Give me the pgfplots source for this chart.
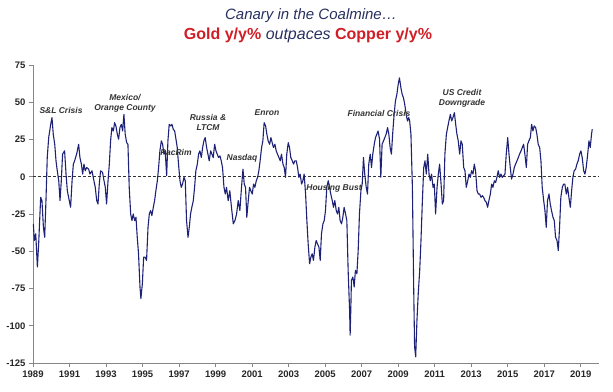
\documentclass[border=0pt]{standalone}
\usepackage{fontspec}
\setmainfont{Liberation Sans}
\usepackage{pgfplots}
\usepackage{pgfplotstable}
\pgfplotsset{compat=1.18}
\definecolor{navyline}{RGB}{30,34,118}
\definecolor{titlenavy}{RGB}{40,48,95}
\definecolor{titlered}{RGB}{208,30,38}
\definecolor{axisgray}{RGB}{135,135,135}
\pgfplotstableread{
year val
1989.02 -31.6
1989.07 -42.8
1989.15 -38.3
1989.24 -60.6
1989.31 -45.0
1989.42 -13.8
1989.49 -16.0
1989.57 -33.9
1989.64 -40.6
1989.71 -16.0
1989.78 12.9
1989.86 26.3
1989.97 35.2
1990.04 39.7
1990.11 28.5
1990.19 21.8
1990.26 10.7
1990.33 4.0
1990.41 -2.7
1990.48 -16.0
1990.55 -2.7
1990.62 15.2
1990.73 17.4
1990.81 1.8
1990.88 -9.4
1990.95 -13.8
1991.06 -20.5
1991.14 -2.7
1991.21 8.5
1991.28 10.7
1991.39 15.2
1991.50 21.8
1991.57 12.9
1991.65 8.5
1991.72 1.8
1991.79 8.5
1991.86 4.0
1991.94 6.2
1992.05 5.1
1992.12 1.8
1992.23 4.0
1992.30 -0.4
1992.41 -7.1
1992.49 -16.0
1992.56 -18.3
1992.63 -4.9
1992.70 4.0
1992.81 2.9
1992.89 -2.7
1992.96 -7.1
1993.03 -18.3
1993.11 -2.7
1993.18 8.5
1993.25 24.1
1993.32 33.0
1993.40 30.7
1993.47 36.3
1993.54 34.1
1993.62 28.5
1993.69 25.2
1993.76 33.0
1993.84 35.2
1993.91 30.7
1993.98 41.9
1994.05 28.5
1994.13 22.9
1994.20 21.8
1994.27 -7.1
1994.35 -25.0
1994.42 -29.4
1994.49 -25.0
1994.57 -29.4
1994.64 -27.2
1994.71 -40.6
1994.78 -51.7
1994.86 -74.0
1994.91 -81.8
1994.99 -71.7
1995.06 -53.9
1995.13 -53.9
1995.22 -56.1
1995.30 -33.9
1995.37 -25.0
1995.44 -22.7
1995.51 -26.1
1995.59 -20.5
1995.66 -16.0
1995.73 -9.4
1995.81 -2.7
1995.88 6.2
1995.95 17.4
1996.03 24.1
1996.10 21.8
1996.17 15.2
1996.24 17.4
1996.32 0.7
1996.39 24.1
1996.46 35.2
1996.54 34.1
1996.61 35.2
1996.68 31.9
1996.76 30.7
1996.83 25.2
1996.90 19.6
1996.97 8.5
1997.05 -2.7
1997.12 -7.1
1997.19 -4.9
1997.27 -0.4
1997.34 -2.7
1997.41 -29.4
1997.49 -40.6
1997.56 -33.9
1997.63 -25.0
1997.70 -20.5
1997.78 -16.0
1997.85 -7.1
1997.92 4.0
1998.00 8.5
1998.07 15.2
1998.14 17.4
1998.22 12.9
1998.29 19.6
1998.36 24.1
1998.43 26.3
1998.51 19.6
1998.58 15.2
1998.65 10.7
1998.73 17.4
1998.80 15.2
1998.87 12.9
1998.95 21.8
1999.02 17.4
1999.09 15.2
1999.16 12.9
1999.24 14.0
1999.31 10.7
1999.38 6.2
1999.46 -7.1
1999.53 -11.6
1999.60 -7.1
1999.69 -16.0
1999.78 -9.4
1999.87 -20.5
1999.97 -31.6
2000.06 -29.4
2000.15 -25.0
2000.24 -16.0
2000.33 -22.7
2000.42 -7.1
2000.50 5.1
2000.57 -4.9
2000.64 -7.1
2000.71 -27.2
2000.79 -16.0
2000.86 -7.1
2000.93 -9.4
2001.01 -11.6
2001.08 -4.9
2001.15 -7.1
2001.23 -2.7
2001.30 -0.4
2001.37 4.0
2001.44 10.7
2001.52 19.6
2001.59 24.1
2001.66 36.3
2001.74 34.1
2001.81 28.5
2001.88 24.1
2001.96 21.8
2002.03 26.3
2002.10 22.9
2002.17 19.6
2002.25 21.8
2002.32 17.4
2002.39 15.2
2002.47 12.9
2002.54 10.7
2002.61 15.2
2002.69 8.5
2002.76 6.2
2002.83 -0.4
2002.90 15.2
2002.98 22.9
2003.05 19.6
2003.12 12.9
2003.20 10.7
2003.27 8.5
2003.34 10.7
2003.42 10.7
2003.49 6.2
2003.56 -0.4
2003.63 1.8
2003.71 -4.9
2003.78 -2.7
2003.85 1.8
2003.93 -11.6
2004.00 -29.4
2004.07 -45.0
2004.15 -58.4
2004.22 -53.9
2004.29 -51.7
2004.36 -56.1
2004.44 -47.2
2004.51 -42.8
2004.58 -45.0
2004.66 -47.2
2004.73 -56.1
2004.80 -38.3
2004.88 -31.6
2004.95 -29.4
2005.02 -22.7
2005.09 -7.1
2005.17 -2.7
2005.24 -7.1
2005.31 -11.6
2005.39 -16.0
2005.46 -20.5
2005.53 -16.0
2005.61 -22.7
2005.68 -25.0
2005.75 -20.5
2005.82 -29.4
2005.90 -31.6
2005.97 -27.2
2006.04 -20.5
2006.12 -25.0
2006.19 -29.4
2006.26 -62.8
2006.34 -89.6
2006.37 -106.3
2006.41 -87.3
2006.44 -69.5
2006.52 -67.3
2006.59 -74.0
2006.66 -62.8
2006.74 -65.1
2006.81 -49.5
2006.88 -25.0
2006.96 -9.4
2007.03 -4.9
2007.10 12.9
2007.17 1.8
2007.25 -7.1
2007.32 -11.6
2007.39 8.5
2007.47 15.2
2007.54 6.2
2007.61 15.2
2007.69 21.8
2007.76 26.3
2007.83 28.5
2007.90 30.7
2007.98 25.2
2008.05 -0.4
2008.12 21.8
2008.20 24.1
2008.27 26.3
2008.34 28.5
2008.42 33.0
2008.49 28.5
2008.56 19.6
2008.63 15.2
2008.71 30.7
2008.78 41.9
2008.85 50.8
2008.93 55.3
2009.00 61.9
2009.07 66.4
2009.15 59.7
2009.22 55.3
2009.29 53.0
2009.36 48.6
2009.44 41.9
2009.51 37.4
2009.58 39.7
2009.63 37.4
2009.70 28.5
2009.78 -7.1
2009.85 -74.0
2009.90 -114.1
2009.96 -120.8
2010.03 -96.2
2010.10 -78.4
2010.18 -62.8
2010.25 -42.8
2010.32 -18.3
2010.40 6.2
2010.47 10.7
2010.54 1.8
2010.62 15.2
2010.69 1.8
2010.76 -2.7
2010.83 1.8
2010.91 -7.1
2010.98 -4.9
2011.05 -25.0
2011.13 -7.1
2011.20 1.8
2011.27 8.5
2011.35 -4.9
2011.42 -18.3
2011.49 -16.0
2011.56 15.2
2011.64 28.5
2011.71 33.0
2011.78 37.4
2011.86 41.9
2011.93 37.4
2012.00 39.7
2012.08 43.0
2012.15 35.2
2012.22 28.5
2012.29 24.1
2012.37 15.2
2012.44 24.1
2012.51 21.8
2012.59 6.2
2012.66 4.0
2012.73 -7.1
2012.81 -2.7
2012.88 1.8
2012.95 -0.4
2013.02 4.0
2013.10 1.8
2013.17 8.5
2013.24 4.0
2013.32 -9.4
2013.39 -11.6
2013.46 -11.6
2013.54 -13.8
2013.61 -12.7
2013.68 -13.8
2013.75 -16.0
2013.83 -17.2
2013.90 -20.5
2013.97 -16.0
2014.05 -11.6
2014.12 -4.9
2014.19 -7.1
2014.27 -2.7
2014.34 -3.8
2014.41 -0.4
2014.48 4.0
2014.56 -0.4
2014.63 1.8
2014.70 -0.4
2014.78 0.7
2014.85 1.8
2014.92 15.2
2015.00 26.3
2015.07 15.2
2015.14 6.2
2015.21 -1.6
2015.29 1.8
2015.36 6.2
2015.43 8.5
2015.51 10.7
2015.58 12.9
2015.65 15.2
2015.73 17.4
2015.80 19.6
2015.87 21.8
2015.94 15.2
2016.02 6.2
2016.09 21.8
2016.16 24.1
2016.24 26.3
2016.31 35.2
2016.38 30.7
2016.45 34.1
2016.53 33.0
2016.60 28.5
2016.67 21.8
2016.75 19.6
2016.82 10.7
2016.89 -7.1
2016.97 -16.0
2017.04 -22.7
2017.11 -33.9
2017.18 -16.0
2017.26 -11.6
2017.33 -18.3
2017.40 -22.7
2017.48 -27.2
2017.55 -29.4
2017.62 -40.6
2017.70 -42.8
2017.77 -49.5
2017.84 -33.9
2017.91 -13.8
2017.99 -7.1
2018.06 -4.9
2018.13 -4.9
2018.21 -11.6
2018.28 -7.1
2018.35 -13.8
2018.43 -20.5
2018.50 -9.4
2018.57 -0.4
2018.64 4.0
2018.72 5.1
2018.79 8.5
2018.86 10.7
2018.94 15.2
2019.01 17.4
2019.08 12.9
2019.16 4.0
2019.23 1.8
2019.30 6.2
2019.38 15.2
2019.45 24.1
2019.52 19.6
2019.59 28.5
2019.63 31.9
}\goldcopper
\begin{document}
\begin{tikzpicture}
\path[use as bounding box] (-33pt,-28pt) rectangle (580pt,363pt);
\begin{axis}[
  scale only axis, width=566pt, height=298pt,
  at={(0pt,0pt)}, anchor=south west,
  xmin=1989, xmax=2020, ymin=-125, ymax=75,
  axis lines=left,
  axis line style={axisgray, line width=0.8pt, -},
  xtick={1989,1991,...,2019},
  ytick={-125,-100,...,75},
  tick align=outside, major tick length=4pt,
  tick style={axisgray, line width=0.6pt},
  ticklabel style={font=\fontsize{9.5}{11}\selectfont\bfseries, text=black!85},
  x tick label style={/pgf/number format/1000 sep={}},
  /pgf/number format/assume math mode=true,
]
\addplot[black!80, line width=0.6pt, dash pattern=on 3pt off 2pt] coordinates {(1989,0) (2020,0)};
\addplot[navyline, line width=1.1pt, line join=round] table[x=year, y=val] {\goldcopper};
\end{axis}
\begin{scope}[every node/.style={font=\fontsize{8.5}{10}\selectfont\bfseries\itshape, text=black!80, inner sep=0pt, align=center}]
\node at (28pt,253pt) {S\&L Crisis};
\node at (92pt,260pt) {Mexico/\\Orange County};
\node at (143pt,211pt) {PacRim};
\node at (175pt,241pt) {Russia \&\\LTCM};
\node at (209pt,205pt) {Nasdaq};
\node at (234pt,250pt) {Enron};
\node at (301pt,175pt) {Housing Bust};
\node at (346pt,250pt) {Financial Crisis};
\node at (429pt,265pt) {US Credit\\Downgrade};
\end{scope}
\node[font=\fontsize{15}{18}\selectfont\itshape, text=titlenavy, inner sep=0pt] at (278pt,347pt) {Canary in the Coalmine…};
\node[font=\fontsize{16}{19}\selectfont, inner sep=0pt] at (275pt,328pt) {{\bfseries\color{titlered}Gold y/y\%} {\itshape\color{titlenavy}outpaces} {\bfseries\color{titlered}Copper y/y\%}};
\end{tikzpicture}
\end{document}
